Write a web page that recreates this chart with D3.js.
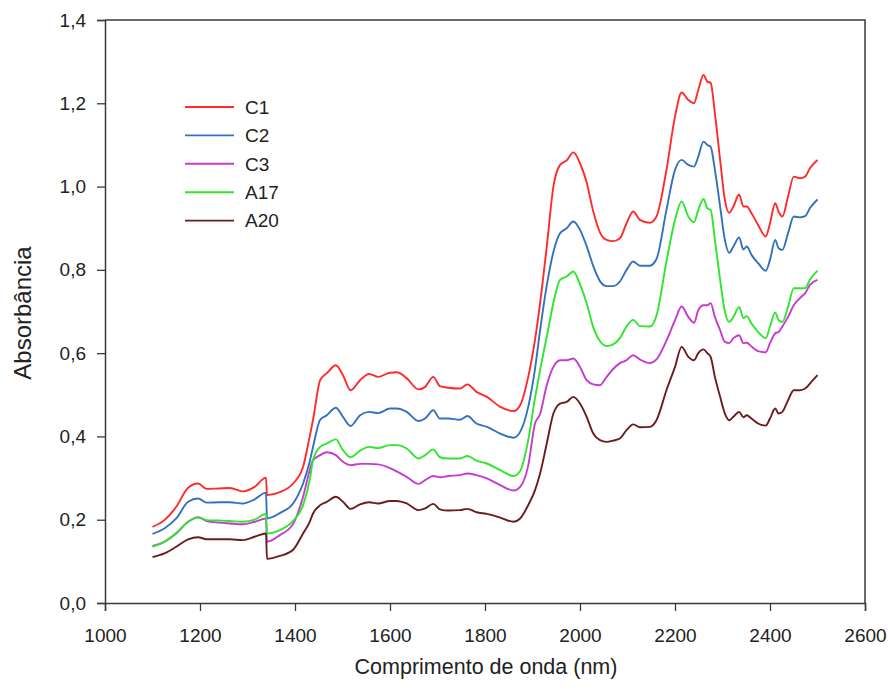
<!DOCTYPE html>
<html>
<head>
<meta charset="utf-8">
<script src="https://cdn.jsdelivr.net/npm/d3@7/dist/d3.min.js"></script>
<style>
  html, body { margin: 0; padding: 0; background: #fff; }
  svg { display: block; font-family: Arial, "Liberation Sans", sans-serif; }
</style>
</head>
<body>
<svg id="chart" width="888" height="698"></svg>
<script>
// NIR absorbance spectra, wavelength in nm
const wavelengths = [1100,1125,1150,1175,1196,1214,1240,1263,1290,1315,1339,1341,1368,1396,1417,1431,1438,1453,1467,1486,
  1501,1517,1537,1556,1575,1600,1614,1635,1660,1674,1691,1705,1723,1747,1763,1782,1804,1832,1860,1874,
  1891,1905,1916,1930,1944,1958,1972,1986,2000,2014,2028,2042,2056,2070,2084,2098,2112,2126,2147,2161,
  2182,2200,2214,2228,2240,2249,2260,2268,2275,2284,2295,2305,2314,2323,2335,2344,2351,2361,2375,2391,
  2400,2411,2418,2426,2438,2450,2463,2474,2484,2500];

const C1 = [0.183,0.199,0.231,0.277,0.287,0.274,0.275,0.276,0.268,0.279, 0.301,0.259,0.266,0.287,0.327,0.40,0.44,0.535,0.552,0.571,
  0.547,0.511,0.535,0.55,0.543,0.553,0.554,0.54,0.513,0.519, 0.543,0.521,0.517,0.515,0.525,0.507,0.495,0.471,0.461,0.475,
  0.543,0.63,0.72,0.856,1.0,1.052,1.063,1.082,1.056,1.01, 0.94,0.89,0.872,0.869,0.876,0.912,0.94,0.92,0.913,0.928,
  1.04,1.168,1.226,1.208,1.2,1.232,1.268,1.252,1.249,1.176, 1.064,0.968,0.937,0.952,0.981,0.952,0.952,0.936,0.908,0.88,
  0.912,0.96,0.94,0.928,0.976,1.024,1.02,1.024,1.044,1.064];

const C2 = [0.166,0.179,0.203,0.243,0.251,0.241,0.242,0.242,0.239,0.249, 0.265,0.203,0.216,0.239,0.287,0.34,0.375,0.44,0.451,0.469,
  0.447,0.425,0.451,0.459,0.456,0.467,0.467,0.459,0.437,0.443, 0.463,0.443,0.443,0.44,0.449,0.431,0.423,0.407,0.397,0.411,
  0.471,0.56,0.655,0.762,0.843,0.888,0.9,0.916,0.896,0.857, 0.809,0.773,0.761,0.761,0.772,0.8,0.82,0.81,0.81,0.826,
  0.944,1.04,1.064,1.052,1.048,1.072,1.108,1.1,1.096,1.04, 0.952,0.872,0.841,0.856,0.878,0.849,0.856,0.836,0.816,0.798,
  0.824,0.872,0.852,0.848,0.888,0.928,0.926,0.929,0.948,0.969];

const C3 = [0.137,0.147,0.167,0.195,0.206,0.197,0.193,0.191,0.189,0.195, 0.203,0.147,0.163,0.19,0.255,0.319,0.343,0.355,0.362,0.355,
  0.339,0.331,0.334,0.334,0.333,0.324,0.316,0.303,0.286,0.295, 0.305,0.302,0.305,0.307,0.311,0.307,0.299,0.283,0.27,0.279,
  0.33,0.43,0.454,0.523,0.567,0.583,0.583,0.587,0.567,0.535, 0.525,0.523,0.543,0.562,0.576,0.583,0.595,0.585,0.576,0.585,
  0.63,0.679,0.712,0.687,0.673,0.703,0.715,0.715,0.72,0.687, 0.655,0.627,0.624,0.636,0.643,0.624,0.625,0.616,0.605,0.602,
  0.624,0.648,0.651,0.664,0.687,0.715,0.732,0.744,0.764,0.776];

const A17 = [0.135,0.147,0.168,0.195,0.205,0.199,0.198,0.197,0.195,0.2, 0.214,0.167,0.175,0.197,0.235,0.295,0.343,0.375,0.383,0.393,
  0.367,0.35,0.366,0.375,0.372,0.379,0.379,0.371,0.347,0.355, 0.369,0.35,0.347,0.347,0.353,0.342,0.335,0.319,0.305,0.317,
  0.391,0.49,0.56,0.639,0.721,0.776,0.784,0.796,0.765,0.72, 0.662,0.629,0.617,0.621,0.636,0.664,0.68,0.665,0.664,0.69,
  0.82,0.92,0.964,0.928,0.914,0.944,0.97,0.948,0.944,0.872, 0.776,0.70,0.675,0.687,0.711,0.684,0.689,0.671,0.651,0.636,
  0.664,0.698,0.679,0.675,0.711,0.756,0.756,0.756,0.776,0.798];

const A20 = [0.11,0.119,0.135,0.153,0.158,0.153,0.153,0.153,0.151,0.159, 0.167,0.106,0.113,0.128,0.167,0.195,0.215,0.235,0.243,0.255,
  0.243,0.226,0.237,0.242,0.239,0.245,0.245,0.239,0.223,0.227, 0.238,0.225,0.222,0.223,0.226,0.218,0.214,0.205,0.195,0.203,
  0.235,0.27,0.311,0.383,0.455,0.479,0.483,0.495,0.479,0.447, 0.407,0.391,0.387,0.39,0.395,0.415,0.429,0.422,0.423,0.439,
  0.511,0.567,0.615,0.591,0.583,0.6,0.609,0.6,0.591,0.543, 0.495,0.455,0.439,0.447,0.459,0.446,0.451,0.443,0.431,0.426,
  0.443,0.467,0.455,0.459,0.487,0.511,0.511,0.515,0.527,0.547];

const seriesNames = ["C1", "C2", "C3", "A17", "A20"];
const seriesValues = [C1, C2, C3, A17, A20];
const seriesColors = ["#ff2b2b", "#3272bd", "#c63ad0", "#2ee62e", "#6b1c1c"];

const xTicks = [1000, 1200, 1400, 1600, 1800, 2000, 2200, 2400, 2600];
const yTicks = [0, 0.2, 0.4, 0.6, 0.8, 1.0, 1.2, 1.4];

const svg = d3.select("#chart");
const plotLeft = 105, plotRight = 865, plotTop = 20, plotBottom = 603;

const x = d3.scaleLinear().domain([1000, 2600]).range([plotLeft, plotRight]);
const y = d3.scaleLinear().domain([0, 1.4]).range([plotBottom, plotTop]);

const ptBR = d3.formatLocale({decimal: ",", thousands: ".", grouping: [3], currency: ["R$", ""]});
const fmtY = ptBR.format(".1f");

// frame (top and right edges)
svg.append("path")
  .attr("d", `M${plotLeft},${plotTop}H${plotRight}V${plotBottom}`)
  .attr("fill", "none").attr("stroke", "#3a3a3a").attr("stroke-width", 1.5);

// axes
const xAxis = svg.append("g")
  .attr("transform", `translate(0,${plotBottom})`)
  .call(d3.axisBottom(x).tickValues(xTicks).tickFormat(d3.format("d")).tickSize(8).tickPadding(18));
const yAxis = svg.append("g")
  .attr("transform", `translate(${plotLeft},0)`)
  .call(d3.axisLeft(y).tickValues(yTicks).tickFormat(fmtY).tickSize(8).tickPadding(11));

[xAxis, yAxis].forEach(g => {
  g.select(".domain").attr("stroke", "#3a3a3a").attr("stroke-width", 1.5);
  g.selectAll(".tick line").attr("stroke", "#3a3a3a").attr("stroke-width", 1.3);
  g.selectAll(".tick text").attr("fill", "#222").style("font-size", "19px")
   .style("font-family", "Arial, 'Liberation Sans', sans-serif");
});

// axis titles
svg.append("text")
  .attr("x", 486).attr("y", 674)
  .attr("text-anchor", "middle").attr("fill", "#222")
  .style("font-size", "21.5px")
  .text("Comprimento de onda (nm)");

svg.append("text")
  .attr("transform", `translate(31,313) rotate(-90)`)
  .attr("text-anchor", "middle").attr("fill", "#222")
  .style("font-size", "24px")
  .text("Absorbância");

// spectra
const line = d3.line()
  .x(d => x(d[0]))
  .y(d => y(d[1]))
  .curve(d3.curveMonotoneX);

seriesValues.forEach((vals, i) => {
  const pts = wavelengths.map((w, j) => [w, vals[j]]);
  svg.append("path")
    .datum(pts)
    .attr("d", line)
    .attr("fill", "none")
    .attr("stroke", seriesColors[i])
    .attr("stroke-width", 1.9)
    .attr("stroke-linejoin", "round");
});

// legend
const legend = svg.append("g");
seriesNames.forEach((name, i) => {
  const ly = 107 + i * 28.4;
  legend.append("line")
    .attr("x1", 185).attr("x2", 234).attr("y1", ly).attr("y2", ly)
    .attr("stroke", seriesColors[i]).attr("stroke-width", 1.9);
  legend.append("text")
    .attr("x", 245).attr("y", ly).attr("dy", "0.36em")
    .attr("fill", "#222").style("font-size", "19px")
    .text(name);
});
</script>
</body>
</html>
